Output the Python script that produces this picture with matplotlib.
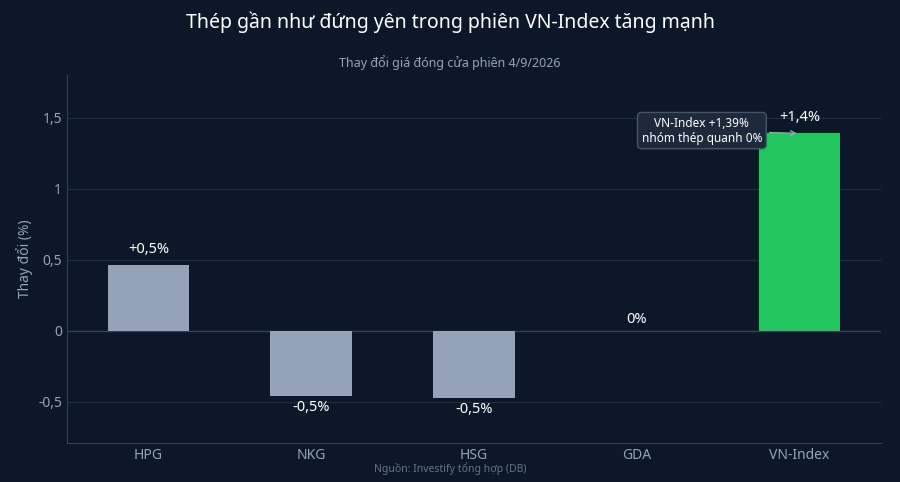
import matplotlib
matplotlib.use("Agg")
import matplotlib.pyplot as plt
from matplotlib.ticker import FuncFormatter

plt.rcParams['font.family'] = ['Noto Sans', 'DejaVu Sans']

categories = ["HPG", "NKG", "HSG", "GDA", "VN-Index"]
values = [0.46, -0.46, -0.47, 0.0, 1.39]
labels = ["+0,5%", "-0,5%", "-0,5%", "0%", "+1,4%"]
colors = ["#94a3b8", "#94a3b8", "#94a3b8", "#94a3b8", "#22c55e"]

bg = "#0c1829"
fig = plt.figure(figsize=(9, 4.82), dpi=100, facecolor=bg)
ax = fig.add_axes([0.0744, 0.081, 0.9045, 0.763])
ax.set_facecolor(bg)
x = range(len(categories))
ax.bar(x, values, width=0.5, color=colors, zorder=3)
ax.set_xlim(-0.5, 4.5)
ax.set_ylim(-0.79, 1.80)
ax.set_yticks([-0.5, 0, 0.5, 1, 1.5])
ax.yaxis.set_major_formatter(FuncFormatter(lambda v, p: ("%g" % v).replace(".", ",")))
ax.grid(axis='y', color="#1e2d42", linewidth=0.8, zorder=0)
ax.axhline(0, color="#334155", linewidth=1, zorder=2)
for s in ["top", "right"]:
    ax.spines[s].set_visible(False)
for s in ["left", "bottom"]:
    ax.spines[s].set_color("#334155")
ax.tick_params(colors="#94a3b8", labelsize=10, length=0)
ax.set_xticks(list(x))
ax.set_xticklabels(categories)
ax.set_ylabel("Thay đổi (%)", color="#94a3b8", fontsize=10)

for i, (v, l) in enumerate(zip(values, labels)):
    if v > 0:
        ax.text(i, v + 0.06, l, ha='center', va='bottom', color='white', fontsize=10.5, fontweight='bold')
    elif v < 0:
        ax.text(i, v - 0.03, l, ha='center', va='top', color='white', fontsize=10.5, fontweight='bold')
    else:
        ax.text(i, v + 0.03, l, ha='center', va='bottom', color='white', fontsize=10.5, fontweight='bold')

ax.annotate("VN-Index +1,39%\nnhóm thép quanh 0%", xy=(4, 1.39), xytext=(3.4, 1.41),
            ha='center', va='center', color='white', fontsize=8.5,
            bbox=dict(boxstyle='round,pad=0.35', fc="#1e293b", ec="#475569"),
            arrowprops=dict(arrowstyle='->', color="#94a3b8"))

fig.text(0.5, 0.953, "Thép gần như đứng yên trong phiên VN-Index tăng mạnh", ha='center', va='center', color='white', fontsize=14)
fig.text(0.5, 0.871, "Thay đổi giá đóng cửa phiên 4/9/2026", ha='center', va='center', color='#94a3b8', fontsize=9)
fig.text(0.5, 0.028, "Nguồn: Investify tổng hợp (DB)", ha='center', va='center', color='#64748b', fontsize=7.5)
fig.savefig("out.png", facecolor=bg)
